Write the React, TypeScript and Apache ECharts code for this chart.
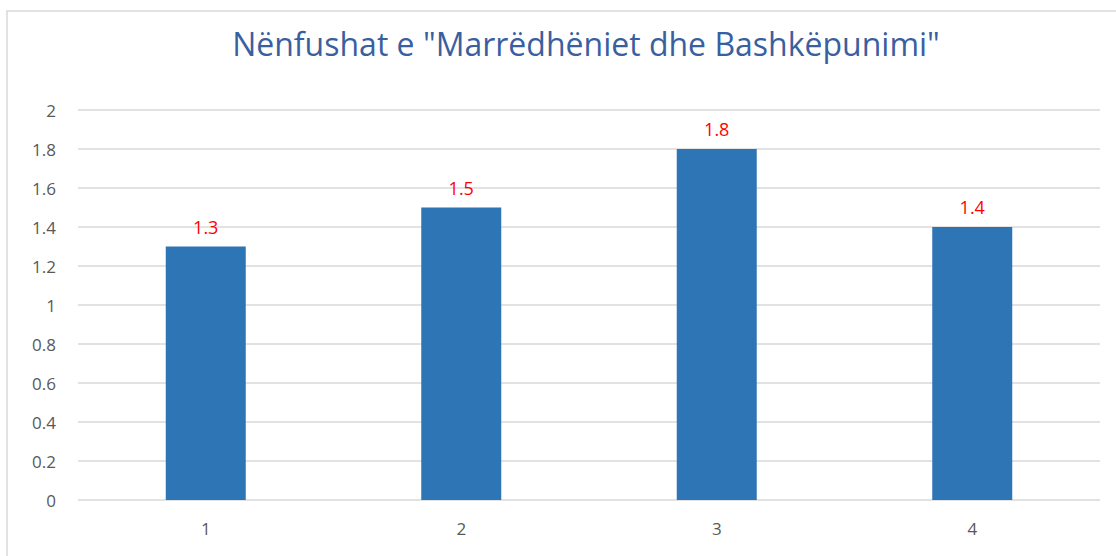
import React, { useEffect, useRef } from "react";
import * as echarts from "echarts";

const categories = ["1", "2", "3", "4"];
const values = [1.3, 1.5, 1.8, 1.4];
const titleText = 'Nënfushat e "Marrëdhëniet dhe Bashkëpunimi"';

export default function App() {
  const ref = useRef<HTMLDivElement>(null);
  useEffect(() => {
    const chart = echarts.init(ref.current!, null, { renderer: "svg" });
    chart.setOption({
      animation: false,
      backgroundColor: "#ffffff",
      title: {
        text: titleText,
        left: 581,
        textAlign: "center",
        top: 22,
        textStyle: { fontFamily: "Open Sans", fontWeight: "normal", fontSize: 32, color: "#3A5FA0" },
      },
      graphic: [
        {
          type: "rect",
          shape: { x: 7, y: 11, width: 1200, height: 600 },
          style: { fill: "none", stroke: "#d9d9d9", lineWidth: 1.5 },
          z: -1,
        },
      ],
      grid: { left: 78, right: 16, top: 110, bottom: 56 },
      xAxis: {
        type: "category",
        data: categories,
        axisLine: { show: false },
        axisTick: { show: false },
        axisLabel: { color: "#595959", fontSize: 17, fontFamily: "Open Sans", margin: 20 },
      },
      yAxis: {
        type: "value",
        min: 0,
        max: 2,
        interval: 0.2,
        axisLine: { show: false },
        axisTick: { show: false },
        splitLine: { lineStyle: { color: "#d9d9d9", width: 1.5 } },
        axisLabel: {
          color: "#595959",
          fontSize: 17,
          fontFamily: "Open Sans",
          margin: 22,
          formatter: (v: number) => String(Math.round(v * 10) / 10),
        },
      },
      series: [
        {
          type: "bar",
          data: values,
          barWidth: 80,
          itemStyle: { color: "#2E75B6" },
          label: {
            show: true,
            position: "top",
            distance: 11,
            color: "#FF0000",
            fontSize: 18,
            fontFamily: "Open Sans",
          },
        },
      ],
    });
    return () => chart.dispose();
  }, []);
  return <div ref={ref} style={{ position: "fixed", left: 0, top: 0, width: 1116, height: 556 }} />;
}
